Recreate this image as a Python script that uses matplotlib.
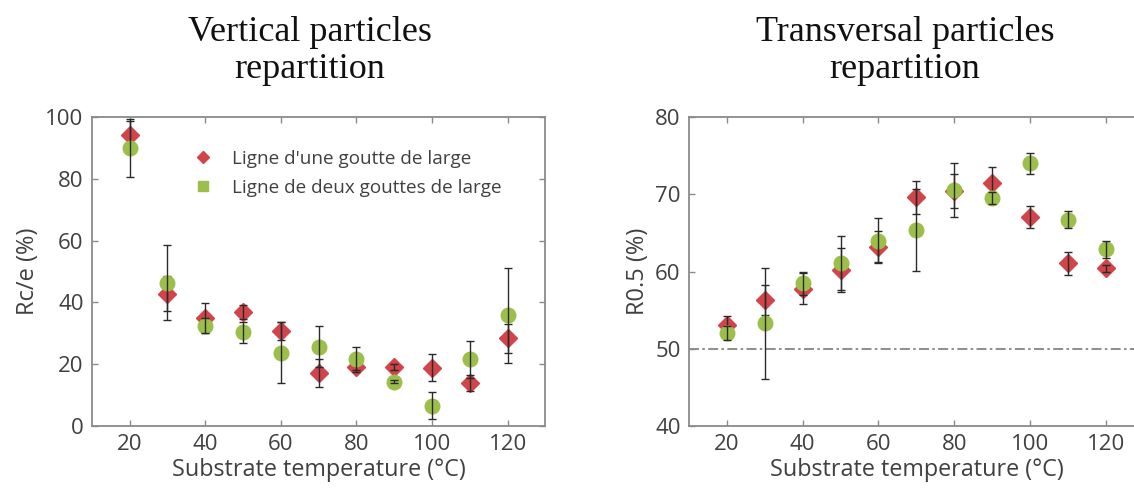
import numpy as np
import matplotlib
matplotlib.use("Agg")
from matplotlib import pyplot as plt
from matplotlib.lines import Line2D

temps = [20, 30, 40, 50, 60, 70, 80, 90, 100, 110, 120]

# vertical repartition Rc/e (%)
vert_one = [94.2, 42.9, 35.0, 37.0, 30.8, 17.2, 19.2, 19.2, 18.9, 14.0, 28.4]
vert_one_err = [4.5, 5.6, 4.8, 2.2, 3.0, 4.6, 1.0, 1.0, 4.3, 2.5, 4.6]
vert_two = [90.1, 46.4, 32.5, 30.3, 23.8, 25.7, 21.6, 14.3, 6.6, 21.6, 35.9]
vert_two_err = [9.4, 12.2, 2.5, 3.3, 10.0, 6.7, 4.0, 0.5, 4.3, 6.0, 15.4]

# transversal repartition R0.5 (%)
trans_one = [53.1, 56.3, 57.8, 60.2, 63.2, 69.6, 70.4, 71.5, 67.1, 61.1, 60.4]
trans_one_err = [1.1, 1.9, 2.0, 2.9, 2.0, 2.1, 2.2, 2.0, 1.4, 1.5, 0.5]
trans_two = [52.1, 53.3, 58.5, 61.1, 64.0, 65.4, 70.6, 69.5, 74.0, 66.7, 62.9]
trans_two_err = [0.9, 7.2, 1.5, 3.5, 2.9, 5.3, 3.5, 0.8, 1.4, 1.1, 1.1]

label_one = "Ligne d'une goutte de large"
label_two = "Ligne de deux gouttes de large"

RED = "#d0444a"
GREEN = "#9bbf4a"
SPINE = "#8a8a8a"
TXT = "#404040"

plt.rcParams["font.family"] = ["Open Sans", "DejaVu Sans"]

fig = plt.figure(figsize=(11.34, 4.92), dpi=100)
ax1 = fig.add_axes([0.081, 0.134, 0.400, 0.628])
ax2 = fig.add_axes([0.6076, 0.134, 0.401, 0.628])


def draw(ax, y1, e1, y2, e2):
    ax.plot(temps, y1, ls="none", marker="D", ms=9, color=RED, zorder=2)
    ax.errorbar(temps, y1, yerr=e1, fmt="none", ecolor="#2a2a2a", elinewidth=1.0,
                capsize=3, capthick=1.0, zorder=3)
    ax.plot(temps, y2, ls="none", marker="o", ms=10.5, color=GREEN, zorder=4)
    ax.errorbar(temps, y2, yerr=e2, fmt="none", ecolor="#2a2a2a", elinewidth=1.0,
                capsize=3, capthick=1.0, zorder=5)
    ax.set_xlim(10, 130)
    ax.set_xticks([20, 40, 60, 80, 100, 120])
    ax.tick_params(direction="in", top=True, right=True, length=4, width=1,
                   color=SPINE, labelsize=16, labelcolor=TXT, pad=6)
    for s in ax.spines.values():
        s.set_color(SPINE)
        s.set_linewidth(1.3)
    ax.set_xlabel("Substrate temperature (°C)", fontsize=16.8, color=TXT, labelpad=2)


draw(ax1, vert_one, vert_one_err, vert_two, vert_two_err)
ax1.set_ylim(0, 100)
ax1.set_yticks([0, 20, 40, 60, 80, 100])
ax1.set_ylabel("Rc/e (%)", fontsize=17, color=TXT, labelpad=4)

handles = [Line2D([], [], ls="none", marker="D", ms=6, color=RED),
           Line2D([], [], ls="none", marker="s", ms=7, color=GREEN)]
ax1.legend(handles, [label_one, label_two], loc="upper left",
           bbox_to_anchor=(0.167, 0.95), frameon=False, fontsize=13.6,
           labelcolor=TXT, handletextpad=0.5, labelspacing=0.6)

draw(ax2, trans_one, trans_one_err, trans_two, trans_two_err)
ax2.axhline(50, color="#7a7a7a", ls=(0, (6, 2, 1.5, 2)), lw=1.2, zorder=1)
ax2.set_ylim(40, 80)
ax2.set_yticks([40, 50, 60, 70, 80])
ax2.set_ylabel("R0.5 (%)", fontsize=17, color=TXT, labelpad=4)

fig.text(0.273, 0.896, "Vertical particles\nrepartition", ha="center", va="center",
         family="Liberation Serif", fontsize=26, linespacing=1.17, color="#111111")
fig.text(0.798, 0.896, "Transversal particles\nrepartition", ha="center", va="center",
         family="Liberation Serif", fontsize=26, linespacing=1.17, color="#111111")

fig.savefig("out.png", dpi=100)
